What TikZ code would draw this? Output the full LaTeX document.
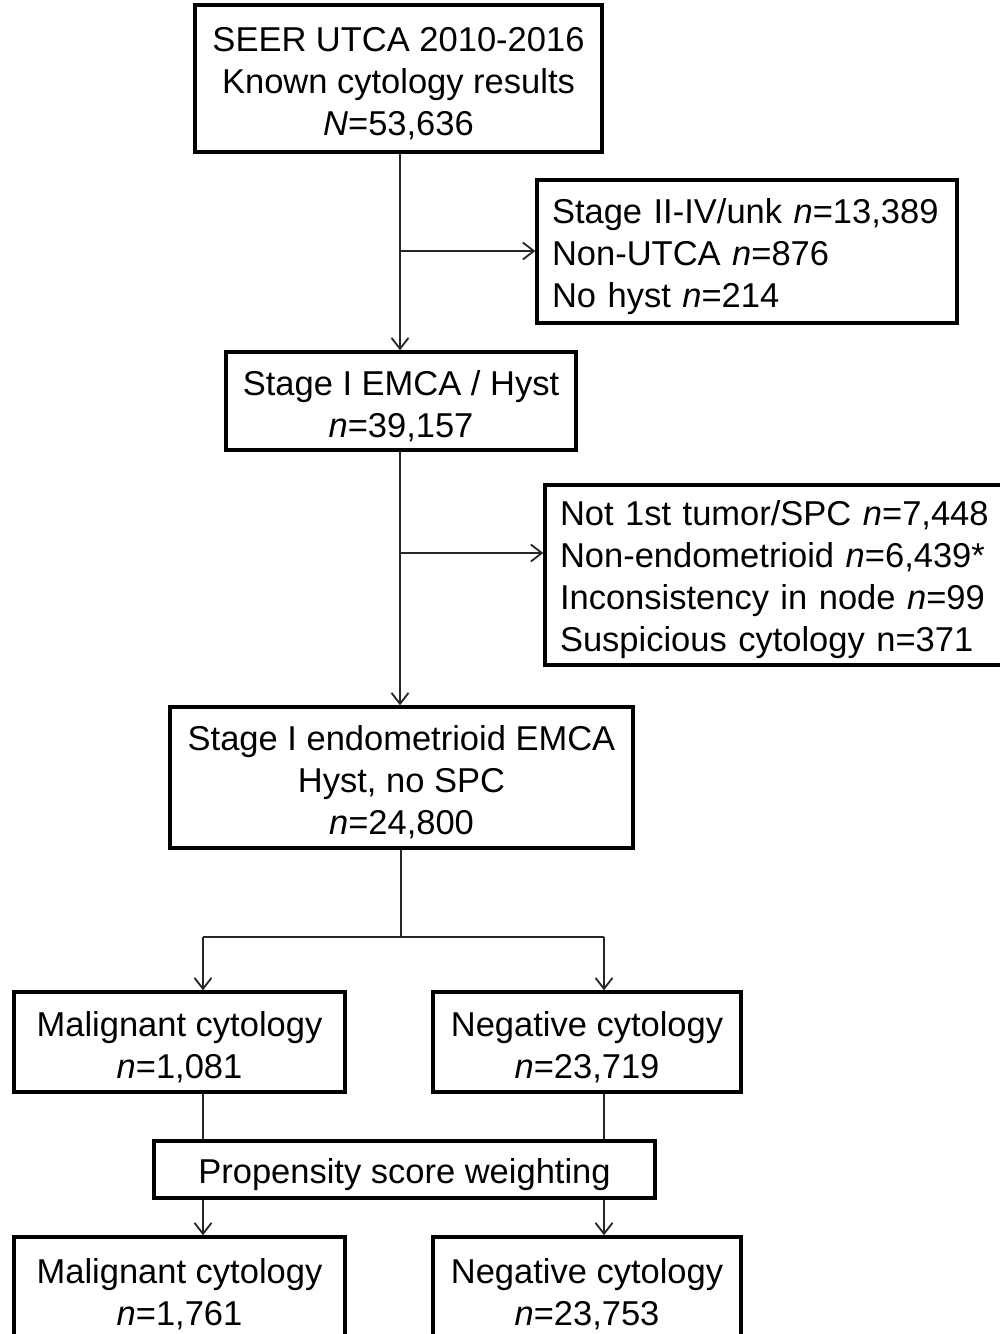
\documentclass[tikz,border=0pt]{standalone}
\usepackage{fontspec}
\setmainfont{Liberation Sans}
\usetikzlibrary{arrows.meta}
\newcommand{\topstrut}{\rule{0pt}{35pt}}
\begin{document}
\begin{tikzpicture}[x=1pt,y=-1pt,
  box/.style={draw=black, line width=3.4pt, inner sep=0pt, align=center,
    font=\fontsize{34.5}{42}\selectfont},
  leftbox/.style={box, align=left, inner xsep=15pt},
  conn/.style={line width=1.8pt, draw=black!85},
  arr/.style={conn, -{Straight Barb[length=11pt,width=17pt,line width=1.8pt]}}]
\useasboundingbox (0,0) rectangle (1000,1334);
\clip (0,0) rectangle (1000,1334);
\fill[white] (0,0) rectangle (1000,1334);

\node[box, minimum width=407pt, minimum height=147pt] (b1) at (398.5,78.5)
  {\topstrut SEER UTCA 2010-2016\\Known cytology results\\\textit{N}=53,636};
\node[leftbox, text width=390pt, minimum height=143pt] (e1) at (747,251.5)
  {\topstrut Stage II-IV/unk \textit{n}=13,389\\Non-UTCA \textit{n}=876\\No hyst \textit{n}=214};
\node[box, minimum width=350pt, minimum height=98pt] (b2) at (401,401)
  {\topstrut Stage I EMCA / Hyst\\\textit{n}=39,157};
\node[leftbox, text width=435pt, minimum height=180pt] (e2) at (777.5,575)
  {\topstrut Not 1st tumor/SPC \textit{n}=7,448\\Non-endometrioid \textit{n}=6,439*\\Inconsistency in node \textit{n}=99\\Suspicious cytology n=371};
\node[box, minimum width=463pt, minimum height=141pt] (b3) at (401.5,777.5)
  {\topstrut Stage I endometrioid EMCA\\Hyst, no SPC\\\textit{n}=24,800};
\node[box, minimum width=331pt, minimum height=100pt] (m1) at (179.5,1042)
  {\topstrut Malignant cytology\\\textit{n}=1,081};
\node[box, minimum width=308pt, minimum height=100pt] (g1) at (587,1042)
  {\topstrut Negative cytology\\\textit{n}=23,719};
\node[box, minimum width=501pt, minimum height=57pt] (ps) at (404.5,1169.5)
  {\topstrut Propensity score weighting};
\node[box, minimum width=331pt, minimum height=104pt] (m2) at (179.5,1289)
  {\topstrut Malignant cytology\\\textit{n}=1,761};
\node[box, minimum width=308pt, minimum height=104pt] (g2) at (587,1289)
  {\topstrut Negative cytology\\\textit{n}=23,753};

\coordinate (v1) at (400,251);
\coordinate (v2) at (400,553);
\coordinate (split) at (401,937);
\coordinate (sl) at (203,937);
\coordinate (sr) at (604,937);

\draw[arr] (b1.south -| v1) -- (b2.north -| v1);
\draw[arr] (v1) -- (e1.west |- v1);
\draw[arr] (b2.south -| v2) -- (b3.north -| v2);
\draw[arr] (v2) -- (e2.west |- v2);
\draw[conn] (b3.south -| split) -- (split);
\draw[conn] (sl) -- (sr);
\draw[arr] (sl) -- (m1.north -| sl);
\draw[arr] (sr) -- (g1.north -| sr);
\draw[conn] (m1.south -| sl) -- (ps.north -| sl);
\draw[conn] (g1.south -| sr) -- (ps.north -| sr);
\draw[arr] (ps.south -| sl) -- (m2.north -| sl);
\draw[arr] (ps.south -| sr) -- (g2.north -| sr);
\end{tikzpicture}
\end{document}
